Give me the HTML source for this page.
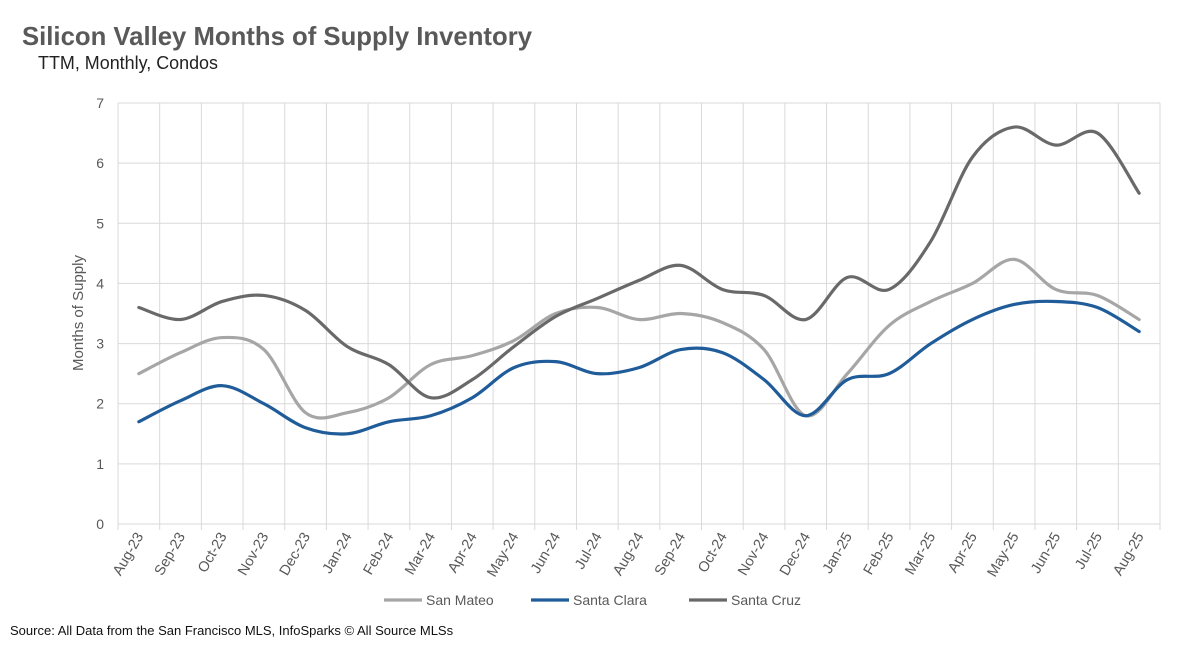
<!DOCTYPE html>
<html><head><meta charset="utf-8"><style>
body{margin:0;background:#fff;}
svg{display:block;font-family:"Liberation Sans",sans-serif;}
</style></head><body>
<svg id="chart" width="1190" height="646" viewBox="0 0 1190 646">
<rect width="1190" height="646" fill="#fff"/>
<text x="22" y="45" font-size="26" font-weight="bold" fill="#595959" textLength="510" lengthAdjust="spacingAndGlyphs">Silicon Valley Months of Supply Inventory</text>
<text x="38" y="69" font-size="18" fill="#222" textLength="180" lengthAdjust="spacingAndGlyphs">TTM, Monthly, Condos</text>
<text transform="translate(83,313) rotate(-90)" text-anchor="middle" font-size="15" fill="#595959">Months of Supply</text>
<g id="grid"></g><g id="series"></g><g id="xlabels"></g>
<g id="legend"></g>
<text x="10" y="635" font-size="13" fill="#111">Source: All Data from the San Francisco MLS, InfoSparks © All Source MLSs</text>
</svg>
<script>
const categories=["Aug-23","Sep-23","Oct-23","Nov-23","Dec-23","Jan-24","Feb-24","Mar-24","Apr-24","May-24","Jun-24","Jul-24","Aug-24","Sep-24","Oct-24","Nov-24","Dec-24","Jan-25","Feb-25","Mar-25","Apr-25","May-25","Jun-25","Jul-25","Aug-25"];
const sanMateo=[2.5,2.85,3.1,2.9,1.85,1.85,2.1,2.65,2.8,3.05,3.5,3.6,3.4,3.5,3.35,2.9,1.8,2.5,3.3,3.7,4.0,4.4,3.9,3.8,3.4];
const santaClara=[1.7,2.05,2.3,2.0,1.6,1.5,1.7,1.8,2.1,2.6,2.7,2.5,2.6,2.9,2.85,2.4,1.8,2.4,2.5,3.0,3.4,3.65,3.7,3.6,3.2];
const santaCruz=[3.6,3.4,3.7,3.8,3.55,2.95,2.65,2.1,2.4,2.95,3.45,3.75,4.05,4.3,3.9,3.8,3.4,4.1,3.9,4.7,6.1,6.6,6.3,6.5,5.5];
const yTicks=[0,1,2,3,4,5,6,7];
const seriesNames=["San Mateo","Santa Clara","Santa Cruz"];
const seriesColors=["#a6a6a6","#1f5c99","#696969"];

const NS="http://www.w3.org/2000/svg";
const X0=118,X1=1160,Y0=524,Y1=103,N=categories.length,bw=(X1-X0)/N;
const x=i=>X0+bw*(i+0.5);
const y=v=>Y0-(v/7)*(Y0-Y1);
function mk(t,a,p){const e=document.createElementNS(NS,t);for(const k in a)e.setAttribute(k,a[k]);p.appendChild(e);return e;}
const grid=document.getElementById('grid');
yTicks.forEach(t=>{
  const l=mk('line',{x1:X0,x2:X1,y1:y(t),y2:y(t),stroke:'#d9d9d9','stroke-width':1},grid);
  
  
  const tx=mk('text',{x:X0-14,y:y(t)+5,'text-anchor':'end','font-size':14,fill:'#595959'},grid);
  tx.textContent=t;
  
  
});
for(let i=0;i<=N;i++){
  const gx=X0+bw*i;
  const l=mk('line',{x1:gx,x2:gx,y1:Y1,y2:Y0+6,stroke:'#d9d9d9','stroke-width':1},grid);
  
  
}
const xl=document.getElementById('xlabels');
categories.forEach((c,i)=>{
  const t=mk('text',{transform:`translate(${x(i)+5},${Y0+12}) rotate(-60)`,'text-anchor':'end','font-size':14.5,fill:'#595959'},xl);
  t.textContent=c;
  
  
});
function smooth(vals){
  const p=vals.map((v,i)=>[x(i),y(v)]);
  let d=`M${p[0][0]},${p[0][1]}`;
  for(let i=0;i<p.length-1;i++){
    const p0=p[Math.max(0,i-1)],p1=p[i],p2=p[i+1],p3=p[Math.min(p.length-1,i+2)];
    const t=1/6;
    d+=` C${p1[0]+(p2[0]-p0[0])*t},${p1[1]+(p2[1]-p0[1])*t} ${p2[0]-(p3[0]-p1[0])*t},${p2[1]-(p3[1]-p1[1])*t} ${p2[0]},${p2[1]}`;
  }
  return d;
}
const sg=document.getElementById('series');
[sanMateo,santaClara,santaCruz].forEach((s,k)=>{
  const p=mk('path',{d:smooth(s),fill:'none',stroke:seriesColors[k],'stroke-width':3.2,'stroke-linejoin':'round','stroke-linecap':'round'},sg);
  
  
});
const lg=document.getElementById('legend');
const lx=[384,531,689];
seriesNames.forEach((n,k)=>{
  const g=mk('g',{},lg);
  
  
  mk('line',{x1:lx[k],x2:lx[k]+38,y1:600,y2:600,stroke:seriesColors[k],'stroke-width':3.2},g);
  const t=mk('text',{x:lx[k]+42,y:605,'font-size':14,fill:'#595959'},g);
  t.textContent=n;
});
</script>
</body></html>
